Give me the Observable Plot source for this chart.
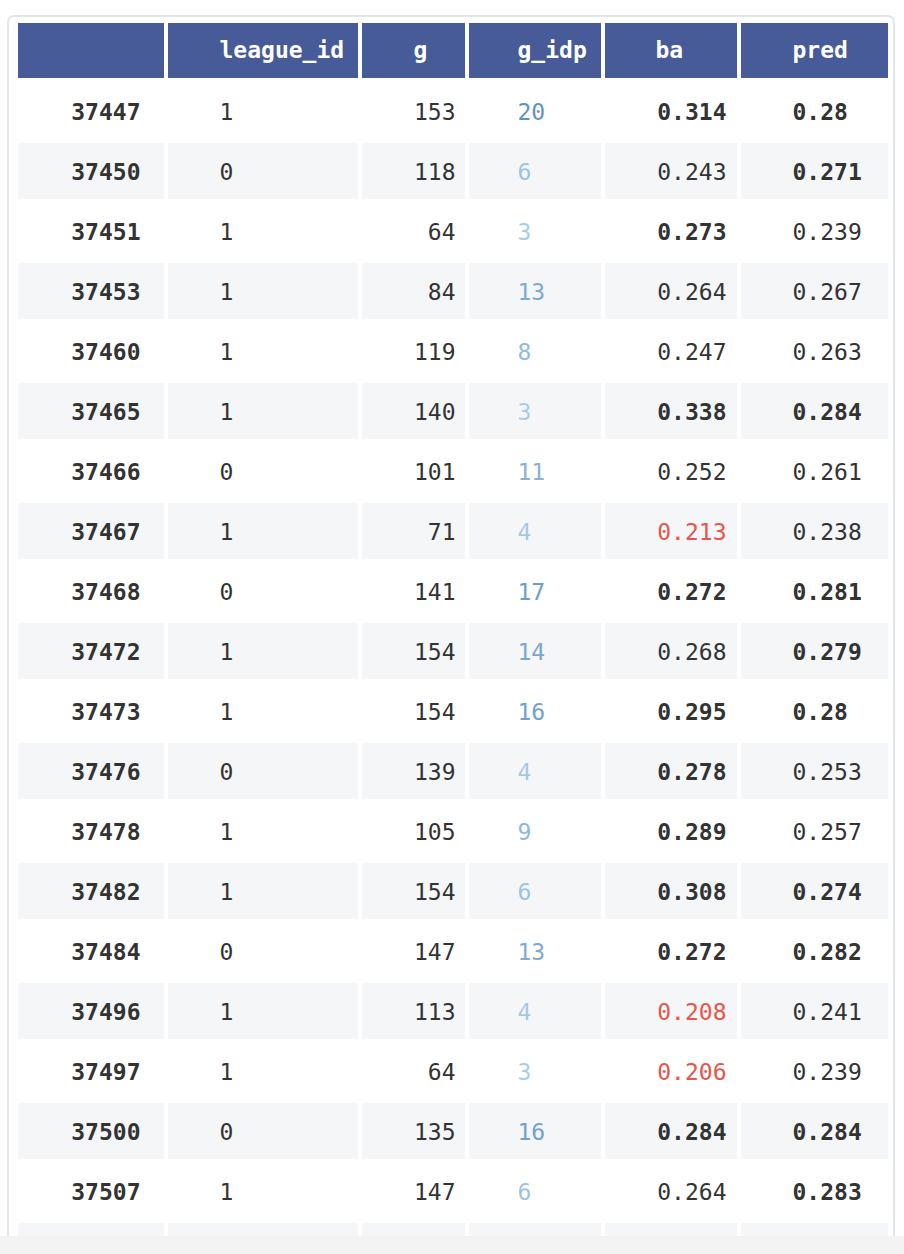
<!DOCTYPE html>
<html><head><meta charset="utf-8">
<script src="https://cdn.jsdelivr.net/npm/d3@7"></script>
<script src="https://cdn.jsdelivr.net/npm/@observablehq/plot@0.6"></script>
<style>body{margin:0;background:#fff}</style>
</head><body><div id="chart"></div>
<script>
const headers = ["", "league_id", "g", "g_idp", "ba", "pred"];
const ids = [37447,37450,37451,37453,37460,37465,37466,37467,37468,37472,37473,37476,37478,37482,37484,37496,37497,37500,37507];
const leagueId = [1,0,1,1,1,1,0,1,0,1,1,0,1,1,0,1,1,0,1];
const g = [153,118,64,84,119,140,101,71,141,154,154,139,105,154,147,113,64,135,147];
const gIdp = [20,6,3,13,8,3,11,4,17,14,16,4,9,6,13,4,3,16,6];
const ba = ["0.314","0.243","0.273","0.264","0.247","0.338","0.252","0.213","0.272","0.268","0.295","0.278","0.289","0.308","0.272","0.208","0.206","0.284","0.264"];
const pred = ["0.28","0.271","0.239","0.267","0.263","0.284","0.261","0.238","0.281","0.279","0.28","0.253","0.257","0.274","0.282","0.241","0.239","0.284","0.283"];

// layout
const colL = [18,168,362,469,605,741], colR = [164,358,465,601,737,888];
const anchorX = [140,219,455,517,726,792];
const anchors = ["end","start","end","start","end","start"];
const headX = [0,219,413,517,655,792];
const rowTop = r => 83 + 60*r;

const nRows = ids.length + 1;
const cells = [];
for (let r = 0; r < nRows; r++) for (let c = 0; c < 6; c++)
  cells.push({x1: colL[c], x2: colR[c], y1: rowTop(r), y2: rowTop(r)+56, fill: r % 2 ? "#f5f6f8" : "#ffffff"});
const heads = headers.map((h,c)=>({x1:colL[c],x2:colR[c],y1:23,y2:78,h,hx:headX[c]}));

const idpColor = d3.scaleLinear().domain([3,20]).range(["#a9cde6","#5f93c6"]);
const txt = [];
ids.forEach((id,r)=>{
  const y = rowTop(r)+29;
  const vals = [
    [String(id),"bold","#333"],
    [String(leagueId[r]),"normal","#333"],
    [String(g[r]),"normal","#333"],
    [String(gIdp[r]),"normal",idpColor(gIdp[r])],
    [ba[r], +ba[r] > 0.27 ? "bold":"normal", +ba[r] < 0.22 ? "#e8554b" : "#333"],
    [pred[r], +pred[r] > 0.27 ? "bold":"normal", "#333"]
  ];
  vals.forEach(([t,w,col],c)=>txt.push({x:anchorX[c],y,t,w,col,a:anchors[c]}));
});

const font = "'DejaVu Sans Mono', monospace";
const marks = [
  Plot.rect([{x1:8,x2:894,y1:16,y2:1250}],{x1:"x1",x2:"x2",y1:"y1",y2:"y2",fill:"#fff",stroke:"#e1e6ec",strokeWidth:2,rx:6}),
  Plot.rect(cells,{x1:"x1",x2:"x2",y1:"y1",y2:"y2",fill:d=>d.fill}),
  Plot.rect(heads,{x1:"x1",x2:"x2",y1:"y1",y2:"y2",fill:"#475b98"}),
  Plot.text(heads,{x:"hx",y:50,text:"h",fill:"#fff",fontWeight:"bold",textAnchor:"start",fontSize:23,fontFamily:font}),
];
for (const a of ["start","end"]) for (const w of ["bold","normal"]) {
  const sub = txt.filter(d=>d.a===a && d.w===w);
  marks.push(Plot.text(sub,{x:"x",y:"y",text:"t",fill:d=>d.col,fontWeight:w,textAnchor:a,fontSize:23,fontFamily:font}));
}
marks.push(Plot.rect([{x1:0,x2:904,y1:1236,y2:1254}],{x1:"x1",x2:"x2",y1:"y1",y2:"y2",fill:"#f3f3f3"}));

const svg = Plot.plot({
  width:904,height:1254,margin:0,
  x:{domain:[0,904],range:[0,904],axis:null},
  y:{domain:[0,1254],range:[0,1254],axis:null},
  style:{background:"#fff"},
  marks
});
document.getElementById("chart").append(svg);
</script></body></html>
